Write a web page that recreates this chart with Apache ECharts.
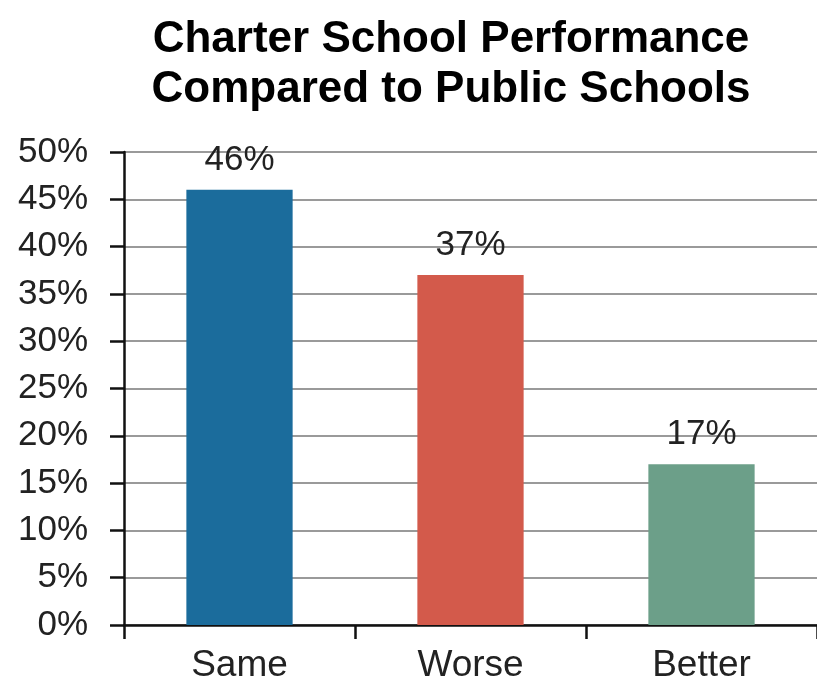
<!DOCTYPE html>
<html>
<head>
<meta charset="utf-8">
<script src="https://cdn.jsdelivr.net/npm/echarts@6/dist/echarts.min.js"></script>
<style>
  html, body { margin: 0; padding: 0; background: #fff; }
  #chart { width: 817px; height: 684px; }
</style>
</head>
<body>
<div id="chart"></div>
<script>
// categories and values
const categories = ['Same', 'Worse', 'Better'];
const values = [46, 37, 17];
const barColors = ['#1b6c9c', '#d35a4b', '#6c9f89'];

const chart = echarts.init(document.getElementById('chart'));
const font = '"Liberation Sans", Arial, sans-serif';

chart.setOption({
  backgroundColor: '#fff',
  animation: false,
  title: {
    text: 'Charter School Performance\nCompared to Public Schools',
    left: 446,
    textAlign: 'center',
    top: 10,
    textStyle: {
      fontFamily: font,
      fontSize: 44,
      fontWeight: 'bold',
      color: '#000',
      lineHeight: 50
    }
  },
  grid: { left: 124, right: 0, top: 152, bottom: 57, containLabel: false },
  xAxis: {
    type: 'category',
    data: categories,
    axisLine: { lineStyle: { color: '#111', width: 2.5 } },
    axisTick: { show: true, length: 14, lineStyle: { color: '#111', width: 2.5 } },
    axisLabel: { fontFamily: font, fontSize: 37, color: '#222', margin: 22 }
  },
  yAxis: {
    type: 'value',
    min: 0,
    max: 50,
    interval: 5,
    axisLine: { show: true, lineStyle: { color: '#111', width: 2.5 } },
    axisTick: { show: true, length: 14, lineStyle: { color: '#111', width: 2.5 } },
    axisLabel: {
      fontFamily: font, fontSize: 35, color: '#222', margin: 36,
      formatter: v => v + '%'
    },
    splitLine: { lineStyle: { color: '#9a9a9a', width: 2 } }
  },
  series: [{
    type: 'bar',
    data: values.map((v, i) => ({ value: v, itemStyle: { color: barColors[i] } })),
    barWidth: '46%',
    label: {
      show: true,
      position: 'top',
      distance: 12,
      fontFamily: font,
      fontSize: 35,
      color: '#222',
      formatter: p => p.value + '%'
    }
  }]
});
</script>
</body>
</html>
